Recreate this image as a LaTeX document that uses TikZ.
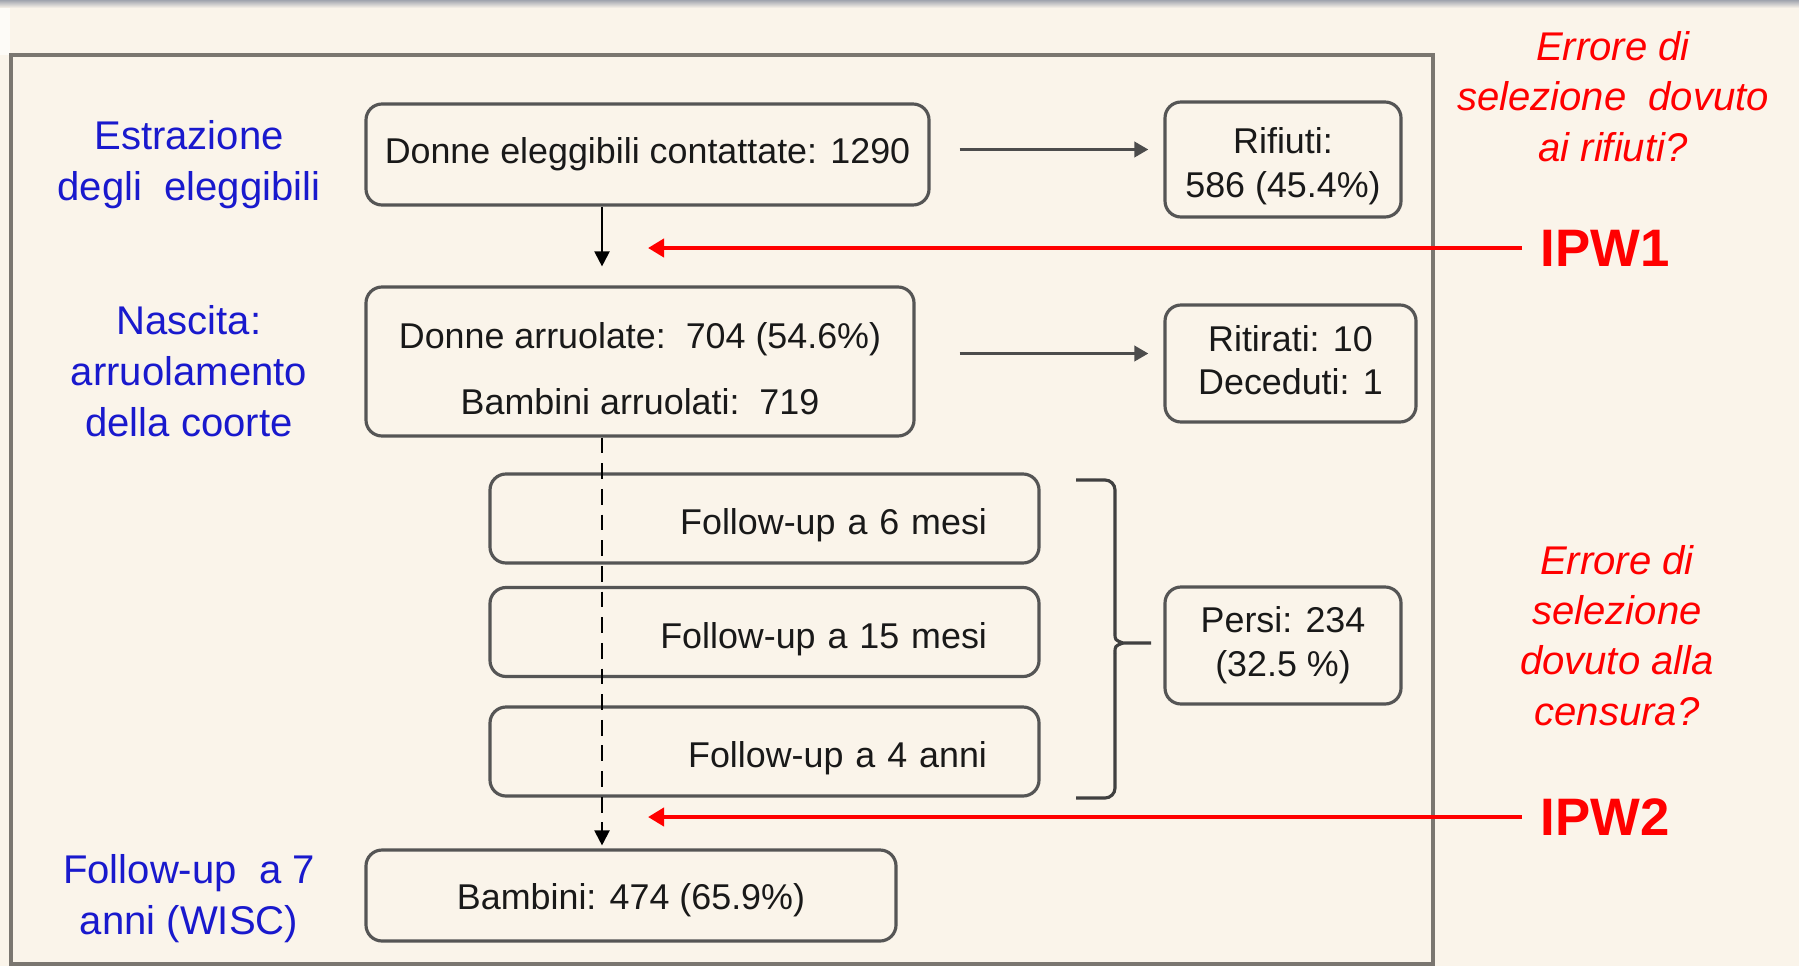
\documentclass[tikz,border=0pt]{standalone}
\usepackage{fontspec}
\setmainfont{Liberation Sans}
\usetikzlibrary{arrows.meta}
\definecolor{bgcream}{RGB}{250,244,234}
\definecolor{topgray}{RGB}{160,164,174}
\definecolor{framegray}{RGB}{122,118,112}
\definecolor{boxgray}{RGB}{85,85,85}
\definecolor{labelblue}{RGB}{25,25,205}
\definecolor{ipwred}{RGB}{255,0,0}
\begin{document}
\begin{tikzpicture}[
    box/.style={draw=boxgray, line width=0.9pt, rounded corners=0.16cm, inner sep=0pt, align=center,
      text=black!90, font=\fontsize{10.2pt}{12.5pt}\selectfont},
    lowtext/.style={execute at begin node={\rule{0pt}{#1}}},
    lowtext/.default=11.3pt,
    fubox/.style={box, lowtext, text width=4.45cm, align=right, inner xsep=0.52cm, minimum height=0.89cm},
    phase/.style={text=labelblue, align=center, inner sep=0pt, font=\fontsize{11.4pt}{14.5pt}\selectfont},
    bias/.style={text=ipwred, align=center, inner sep=0pt, font=\fontsize{11.4pt}{14.3pt}\selectfont\itshape},
    ipw/.style={text=ipwred, inner sep=0pt, anchor=west, font=\fontsize{15pt}{18pt}\selectfont\bfseries},
    flow/.style={draw=black!70, line width=1.1pt, -{Triangle[length=1.4mm,width=1.5mm]}},
    thinflow/.style={draw=black, line width=0.6pt, -{Triangle[length=1.5mm,width=1.5mm]}},
    ipwarrow/.style={draw=ipwred, line width=1.3pt, -{Triangle[length=1.6mm,width=1.8mm]}},
    bracestyle/.style={draw=black!75, line width=0.9pt},
  ]
  \useasboundingbox (0,0) rectangle (17.99,9.66);
  \fill[bgcream] (0,0) rectangle (17.99,9.66);
  \shade[top color=topgray, bottom color=bgcream] (0,9.58) rectangle (17.99,9.66);
  \fill[white!60!bgcream] (0,9.11) rectangle (0.10,9.58);
  \draw[framegray, line width=1.15pt] (0.11,0.02) rectangle (14.33,9.11);

  % phases
  \node[phase] (estraz) at (1.89,8.01) {Estrazione\\degli\ \ eleggibili};
  \node[phase] (nascita) at (1.89,5.945) {Nascita:\\arruolamento\\della coorte};
  \node[phase] (wisc) at (1.89,0.67) {Follow-up\ \ a 7\\anni (WISC)};

  % flow boxes
  \node[box, minimum width=5.63cm, minimum height=1.01cm] (contatt) at (6.475,8.115) {Donne eleggibili contattate: 1290};
  \node[box, minimum width=2.36cm, minimum height=1.15cm] (rifiuti) at (12.83,8.065) {\rule{0pt}{11pt}Rifiuti:\\586 (45.4\%)};
  \node[box, minimum width=5.48cm, minimum height=1.49cm] (arruol) at (6.40,6.045) {\rule{0pt}{11.5pt}Donne arruolate:\ \ 704 (54.6\%)\\[0.22cm]Bambini arruolati:\ \ 719};
  \node[box, minimum width=2.51cm, minimum height=1.17cm] (ritirati) at (12.905,6.025) {Ritirati: 10\\Deceduti: 1\rule[-2pt]{0pt}{0pt}};
  \node[fubox] (fu6) at (7.645,4.475) {Follow-up a 6 mesi};
  \node[fubox] (fu15) at (7.645,3.34) {Follow-up a 15 mesi};
  \node[fubox] (fu4) at (7.645,2.145) {Follow-up a 4 anni};
  \node[box, minimum width=2.36cm, minimum height=1.17cm] (persi) at (12.83,3.205) {Persi: 234\\(32.5 \%)};
  \node[box, lowtext=10.3pt, minimum width=5.30cm, minimum height=0.91cm] (bambini) at (6.31,0.705) {Bambini: 474 (65.9\%)};

  % bias notes
  \node[bias] (bias1) at (16.13,8.695) {Errore di\\selezione\ \ dovuto\\ai rifiuti?};
  \node[bias] (bias2) at (16.17,3.305) {Errore di\\selezione\\dovuto alla\\censura?};
  \node[ipw] (ipw1) at (15.40,7.18) {IPW1};
  \node[ipw] (ipw2) at (15.40,1.49) {IPW2};

  \coordinate (vx) at (6.02,0);
  \coordinate (redtip) at (6.48,0);
  \coordinate (bracetip) at (11.51,3.23);

  % connectors
  \draw[flow, shorten <=2.9mm, shorten >=1.5mm] ([yshift=0.05cm]contatt.east) -- ([yshift=0.05cm]contatt.east -| rifiuti.west);
  \draw[flow, shorten <=4.4mm, shorten >=1.5mm] ([yshift=0.08cm]arruol.east) -- ([yshift=0.08cm]arruol.east -| ritirati.west);
  \draw[thinflow, shorten >=1.9mm] (contatt.south -| vx) -- (arruol.north -| vx);
  \draw[thinflow, dash pattern=on 4.5pt off 2.8pt, shorten >=0.3mm] (arruol.south -| vx) -- (bambini.north -| vx);

  % brace to persi
  \draw[bracestyle, rounded corners=0.1cm] (10.76,4.86) -- (11.15,4.86) -- (11.15,3.33);
  \draw[bracestyle] (11.15,3.33) .. controls (11.15,3.26) .. (11.23,3.23) -- (bracetip);
  \draw[bracestyle, rounded corners=0.1cm] (10.76,1.68) -- (11.15,1.68) -- (11.15,3.13);
  \draw[bracestyle] (11.15,3.13) .. controls (11.15,3.20) .. (11.23,3.23);

  % weights
  \draw[ipwarrow, shorten <=1.8mm] (ipw1.west) -- (ipw1.west -| redtip);
  \draw[ipwarrow, shorten <=1.8mm] (ipw2.west) -- (ipw2.west -| redtip);
\end{tikzpicture}
\end{document}
